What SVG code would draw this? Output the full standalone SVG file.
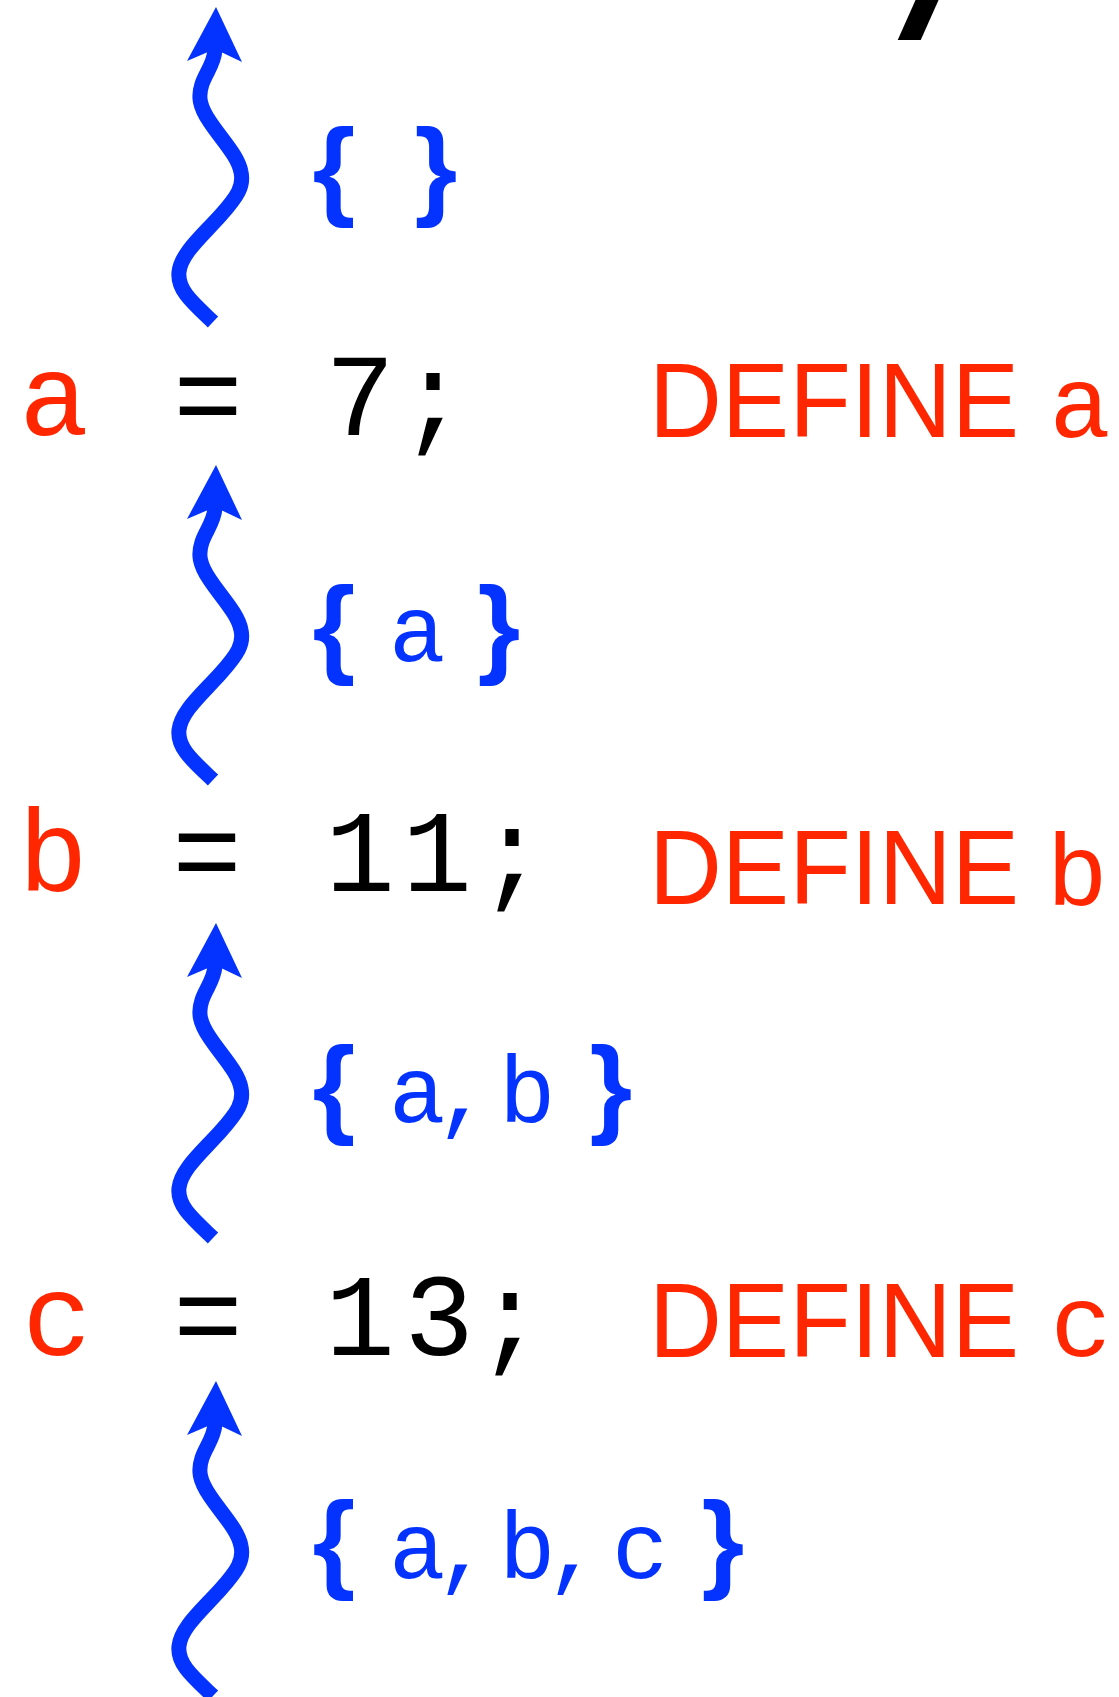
<svg xmlns="http://www.w3.org/2000/svg" width="1119" height="1697" viewBox="0 0 1119 1697">
<style>
.mono{font-family:"Liberation Mono","DejaVu Sans Mono",monospace;text-anchor:middle}
.row{font-size:116px;fill:#000}
.red{fill:#FF2600}
.blue{fill:#0433FF}
.lbl{font-family:"Liberation Mono","DejaVu Sans Mono",monospace;font-size:94px;fill:#0433FF;letter-spacing:-10px}
.brace{font-family:"Liberation Sans",Arial,sans-serif;font-weight:bold;font-size:110px;fill:#0433FF;text-anchor:middle}
.def{font-family:"Liberation Sans",Arial,sans-serif;font-size:106px;fill:#FF2600}
.defv{font-size:102px}
.shaft{fill:none;stroke:#0433FF;stroke-width:15;stroke-linecap:butt}
</style>
<defs>
<g id="squig">
<path class="shaft" d="M213,322 C193,303 177,290 179,272 C181,254 200,238 220,216 C238,196 244,186 241,172 C238,156 222,140 210,122 C199,106 198,96 202,84 C206,72 214,64 215,50"/>
<polygon points="216,7 242,62 221,52 208,52 187,61" fill="#0433FF"/>
</g>
</defs>

<g id="fragment">
<g transform="translate(887,40) skewX(-24)"><text x="0" y="0" font-family="Liberation Sans,Arial,sans-serif" font-weight="bold" font-size="160" fill="#000">I</text></g>
</g>

<g id="connectors">
<use href="#squig"/>
<use href="#squig" transform="translate(0,458)"/>
<use href="#squig" transform="translate(0,916)"/>
<use href="#squig" transform="translate(0,1374)"/>
</g>

<g id="set-empty">
<text class="brace" y="205"><tspan x="334">{</tspan><tspan x="436">}</tspan></text>
</g>
<g id="stmt-a">
<text class="mono row" y="435"><tspan class="red" x="54">a</tspan><tspan x="131 208 284 360 433"> = 7;</tspan></text>
</g>
<g id="define-a">
<text class="def" x="649" y="437" textLength="370" lengthAdjust="spacingAndGlyphs">DEFINE</text>
<text class="mono defv red" x="1080" y="437">a</text>
</g>
<g id="set-a">
<text class="brace" y="663"><tspan x="334">{</tspan><tspan x="499">}</tspan></text>
<text class="lbl" x="389" y="661">a</text>
</g>
<g id="stmt-b">
<text class="mono row" y="891"><tspan class="red" x="53">b</tspan><tspan x="130 207 284 360 437 512"> = 11;</tspan></text>
</g>
<g id="define-b">
<text class="def" x="649" y="904" textLength="370" lengthAdjust="spacingAndGlyphs">DEFINE</text>
<text class="mono defv red" x="1077" y="905">b</text>
</g>
<g id="set-ab">
<text class="brace" y="1123"><tspan x="334">{</tspan><tspan x="611">}</tspan></text>
<text class="lbl" y="1122"><tspan x="389">a,</tspan> <tspan x="499">b</tspan></text>
</g>
<g id="stmt-c">
<text class="mono row" y="1355"><tspan class="red" x="57">c</tspan><tspan x="132 208 284 360 439 510"> = 13;</tspan></text>
</g>
<g id="define-c">
<text class="def" x="649" y="1357" textLength="370" lengthAdjust="spacingAndGlyphs">DEFINE</text>
<text class="mono defv red" x="1081" y="1356">c</text>
</g>
<g id="set-abc">
<text class="brace" y="1578"><tspan x="334">{</tspan><tspan x="723">}</tspan></text>
<text class="lbl" y="1578"><tspan x="389">a,</tspan> <tspan x="499">b,</tspan> <tspan x="612">c</tspan></text>
</g>
</svg>
